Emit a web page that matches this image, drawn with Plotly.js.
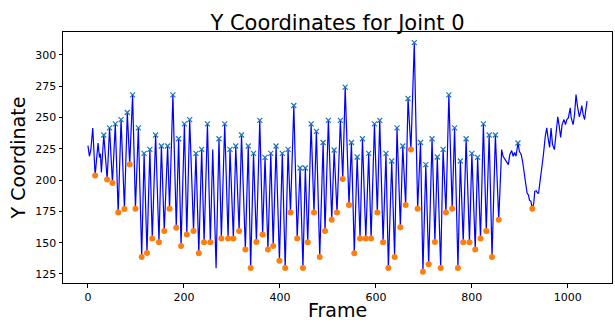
<!DOCTYPE html>
<html>
<head>
<meta charset="utf-8">
<script src="https://cdn.plot.ly/plotly-3.0.1.min.js"></script>
<style>
  html, body { margin: 0; padding: 0; background: #fff; }
  #chart { width: 615px; height: 323px; }
</style>
</head>
<body>
<div id="chart"></div>
<script>
// Line vertices (frame, y); kind: 'p' = detected peak, 't' = detected trough
const frames = [0, 3, 6, 10, 15, 21, 24, 26, 28, 33, 40, 45, 51, 57, 63, 69, 76, 82, 87, 93,
  99, 105, 112, 117, 123, 129, 134, 141, 148, 153, 159, 166, 170, 177, 184, 189, 194, 201, 206, 212,
  220, 225, 231, 237, 242, 249, 255, 260, 267, 273, 278, 285, 292, 296, 303, 308, 315, 320, 328, 334,
  339, 345, 351, 358, 364, 369, 375, 381, 386, 392, 399, 405, 411, 417, 422, 429, 436, 442, 448, 453,
  458, 465, 471, 476, 483, 490, 494, 501, 508, 513, 519, 526, 531, 536, 544, 549, 555, 561, 567, 572,
  579, 585, 590, 597, 603, 608, 615, 621, 626, 633, 639, 644, 651, 656, 662, 667, 673, 680, 687, 693,
  698, 704, 710, 717, 723, 728, 735, 740, 746, 752, 759, 764, 771, 776, 782, 788, 795, 800, 807, 812,
  818, 824, 830, 836, 842, 849, 856,
  862, 865, 870, 876, 879, 883, 886, 889, 892, 896, 899, 903, 906, 910, 913, 915, 918, 920, 923, 926,
  929, 931, 934, 937, 939, 942, 946, 949, 953, 956, 959, 962, 965, 968, 972, 975, 979, 982, 985, 988,
  992, 995, 998, 1001, 1005, 1007, 1011, 1014, 1017, 1020, 1024, 1027, 1029, 1032, 1035, 1037, 1040];
const yvals = [227.5, 219, 224, 241.6, 203.7, 229.6, 218, 221, 206, 236, 200.5, 241.6, 197.6, 244.8, 174, 248.3, 176.8, 253.9, 212.5, 268,
  177, 241.6, 138.6, 221.3, 141.8, 224.5, 153.3, 236, 150.4, 227.2, 159.4, 227.2, 177, 268, 162, 233, 147.4, 244.8, 156.5, 248.3,
  159.4, 221.3, 141.6, 224.5, 150.4, 244.8, 150.4, 224.3, 129.6, 233, 153.3, 244.8, 153.3, 224.5, 153.3, 227.2, 159.4, 236, 144.5, 227.2,
  129.8, 221.3, 150.6, 247.7, 156.5, 218.1, 144.5, 221.3, 147.4, 227.2, 135.6, 221.3, 129.8, 224.5, 174, 259.5, 153.3, 209.6, 129.8, 209.6,
  150.4, 244.8, 174, 238.9, 138.6, 230, 159.4, 247.7, 168.2, 224, 174, 247.7, 200.8, 274.2, 180, 230, 141.6, 218.4, 153.3, 233,
  153.3, 221.3, 153.3, 244.8, 174, 247.7, 150.4, 221.3, 129.8, 215.2, 138.6, 241.6, 162.4, 227.2, 180, 265.1, 224.3, 309.7, 177, 230,
  126.8, 212.3, 132.8, 233, 150.6, 218.4, 129.8, 224.5, 174, 268, 177, 241.6, 129.8, 215.2, 150.4, 233, 150.4, 221.3, 144.5, 218.1,
  153.3, 244.8, 159.4, 236, 138.6, 236, 168.2,
  224.3, 218.9, 216, 212.3, 220.3, 223.5, 219, 222, 219, 229.6, 223, 220, 214, 203, 198, 189.6, 188, 184, 183, 177,
  181.5, 191, 191.5, 189.6, 189.6, 197.6, 211, 220, 235, 241.6, 233, 226, 241.6, 228.5, 224.3, 237.5, 250.5, 243, 234, 244.3,
  248.3, 244.3, 248.3, 249.6, 257.6, 249.6, 244.3, 252.3, 268.3, 259, 250.5, 255, 259.5, 252, 248.3, 255, 263];
const kinds = ['', '', '', '', 't', '', '', '', '', 'p', 't', 'p', 't', 'p', 't', 'p', 't', 'p', 't', 'p',
  't', 'p', 't', 'p', 't', 'p', 't', 'p', 't', 'p', 't', 'p', 't', 'p', 't', 'p', 't', 'p', 't', 'p',
  't', 'p', 't', 'p', 't', 'p', 't', '', '', 'p', 't', 'p', 't', 'p', 't', 'p', 't', 'p', 't', 'p',
  't', 'p', 't', 'p', 't', 'p', 't', 'p', 't', 'p', 't', 'p', 't', 'p', 't', 'p', 't', 'p', 't', 'p',
  't', 'p', 't', 'p', 't', 'p', 't', 'p', 't', 'p', 't', 'p', 't', 'p', 't', 'p', 't', 'p', 't', 'p',
  't', 'p', 't', 'p', 't', 'p', 't', 'p', 't', 'p', 't', 'p', 't', 'p', 't', 'p', 't', 'p', 't', 'p',
  't', 'p', 't', 'p', 't', 'p', 't', 'p', 't', 'p', 't', 'p', 't', 'p', 't', 'p', 't', 'p', 't', 'p',
  't', 'p', 't', 'p', 't', 'p', 't',
  '', '', '', '', '', '', '', '', '', 'p', '', '', '', '', '', '', '', '', '', 't',
  '', '', '', '', '', '', '', '', '', '', '', '', '', '', '', '', '', '', '', '',
  '', '', '', '', '', '', '', '', '', '', '', '', '', '', '', '', ''];
const yTicks = [125, 150, 175, 200, 225, 250, 275, 300];
const xTicks = [0, 200, 400, 600, 800, 1000];

const pick = (k, arr) => arr.filter((_, i) => kinds[i] === k);

const FONT = 'DejaVu Sans, sans-serif';
const traces = [
  { x: frames, y: yvals, mode: 'lines', type: 'scatter',
    line: { color: '#0000ff', width: 1.2 }, hoverinfo: 'skip' },
  { x: pick('p', frames), y: pick('p', yvals), mode: 'markers', type: 'scatter',
    marker: { symbol: 'x-thin', size: 5, color: '#1f77b4', line: { color: '#1f77b4', width: 1.2 } } },
  { x: pick('t', frames), y: pick('t', yvals), mode: 'markers', type: 'scatter',
    marker: { symbol: 'circle', size: 6, color: '#ff7f0e', line: { width: 0 } } }
];

const axisCommon = {
  showgrid: false, zeroline: false, showline: true, mirror: true,
  linecolor: '#000', linewidth: 1, ticks: 'outside', ticklen: 3.5, tickwidth: 1, tickcolor: '#000',
  tickfont: { family: FONT, size: 11, color: '#000' }
};

const layout = {
  width: 615, height: 323,
  margin: { l: 63, r: 3, t: 32, b: 40 },
  paper_bgcolor: '#fff', plot_bgcolor: '#fff',
  showlegend: false,
  title: { text: 'Y Coordinates for Joint 0', font: { family: FONT, size: 21, color: '#000' },
           x: 0.5, xref: 'paper', y: 1, yref: 'paper', yanchor: 'bottom', pad: { b: 2 } },
  xaxis: Object.assign({}, axisCommon, {
    range: [-52, 1092], tickvals: xTicks, ticktext: xTicks.map(String)
  }),
  yaxis: Object.assign({}, axisCommon, {
    range: [117.8, 318.2], tickvals: yTicks, ticktext: yTicks.map(String),
    title: { text: 'Y Coordinate', font: { family: FONT, size: 19, color: '#000' }, standoff: 4 }
  }),
  annotations: [
    { text: 'Frame', xref: 'paper', yref: 'paper', x: 0.5, y: -0.108, xanchor: 'center', yanchor: 'middle',
      showarrow: false, font: { family: FONT, size: 19, color: '#000' } }
  ]
};

Plotly.newPlot('chart', traces, layout, { staticPlot: true, displayModeBar: false });
</script>
</body>
</html>
